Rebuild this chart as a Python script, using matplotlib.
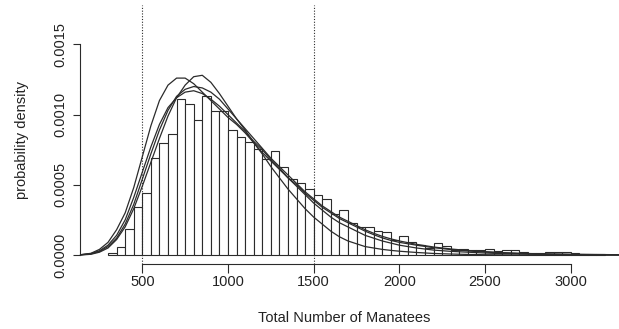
import matplotlib
matplotlib.use("Agg")
import matplotlib.pyplot as plt
from matplotlib.ticker import FuncFormatter
import numpy as np

plt.rcParams['font.family'] = ['Liberation Sans', 'DejaVu Sans']

# ---- data ----
bin_edges = list(range(300, 3201, 50))
hist_density = [
    0.000012, 0.000059, 0.000183, 0.000340, 0.000443, 0.000688, 0.000800, 0.000865,
    0.001110, 0.001074, 0.000965, 0.001133, 0.001026, 0.001024, 0.000889, 0.000837,
    0.000806, 0.000754, 0.000683, 0.000740, 0.000624, 0.000540, 0.000514, 0.000469,
    0.000427, 0.000398, 0.000289, 0.000320, 0.000225, 0.000201, 0.000201, 0.000171,
    0.000166, 0.000107, 0.000137, 0.000090, 0.000071, 0.000047, 0.000083, 0.000066,
    0.000036, 0.000045, 0.000036, 0.000036, 0.000040, 0.000030, 0.000036, 0.000036,
    0.000019, 0.000017, 0.000017, 0.000020, 0.000024, 0.000019, 0.000017, 0.000010,
    0.000010, 0.000005,
]

curve_x = [140, 200, 250, 300, 350, 400, 450, 500, 550, 600, 650, 700, 750, 800, 850,
           900, 950, 1000, 1050, 1100, 1150, 1200, 1250, 1300, 1350, 1400, 1450, 1500,
           1550, 1600, 1650, 1700, 1750, 1800, 1850, 1900, 1950, 2000, 2100, 2200, 2300,
           2400, 2500, 2600, 2700, 2800, 2900, 3000, 3100, 3200, 3290]

curve_a = [0.000002, 0.000012, 0.00004, 0.00009, 0.00018, 0.00030, 0.00048, 0.00070,
           0.00092, 0.00110, 0.00121, 0.00126, 0.00126, 0.00122, 0.00116, 0.00110,
           0.00104, 0.00098, 0.00093, 0.00087, 0.00080, 0.00073, 0.00067, 0.00061,
           0.00055, 0.00050, 0.00044, 0.00039, 0.00034, 0.00030, 0.00026, 0.00023,
           0.00020, 0.00017, 0.000145, 0.000122, 0.000104, 0.00009, 0.00007, 0.000052,
           0.000039, 0.000029, 0.000021, 0.000015, 0.000011, 0.000008, 0.000006,
           0.000004, 0.000003, 0.000002, 0.000001]
curve_b = [0.0, 0.000005, 0.00002, 0.00005, 0.00011, 0.00020, 0.00033, 0.00049,
           0.00066, 0.00083, 0.00099, 0.00112, 0.00121, 0.00127, 0.00128, 0.00123,
           0.00115, 0.00106, 0.00097, 0.00089, 0.00080, 0.00072, 0.00063, 0.00055,
           0.00047, 0.00040, 0.00033, 0.00027, 0.00022, 0.00017, 0.00013, 0.00010,
           0.00008, 0.00006, 0.00005, 0.00004, 0.000033, 0.000027, 0.000018, 0.000011,
           0.000007, 0.000004, 0.000002, 0.000001, 0.0, 0.0, 0.0, 0.0, 0.0, 0.0, 0.0]
curve_c = [0.000001, 0.000008, 0.000025, 0.00006, 0.00012, 0.00022, 0.00036, 0.00054,
           0.00072, 0.00089, 0.00103, 0.00113, 0.00118, 0.00120, 0.00119, 0.00116,
           0.00111, 0.00104, 0.00097, 0.00090, 0.00083, 0.00076, 0.00069, 0.00063,
           0.00057, 0.00051, 0.00045, 0.00040, 0.00035, 0.00031, 0.00027, 0.00024,
           0.00021, 0.00018, 0.000155, 0.000133, 0.000115, 0.00010, 0.000076, 0.000057,
           0.000043, 0.000032, 0.000024, 0.000017, 0.000012, 0.000009, 0.000007,
           0.000005, 0.000004, 0.000003, 0.000002]
curve_d = [0.000002, 0.00001, 0.00003, 0.00007, 0.00014, 0.00025, 0.00041, 0.00059,
           0.00077, 0.00093, 0.00105, 0.00112, 0.00116, 0.00117, 0.00115, 0.00111,
           0.00106, 0.00100, 0.00094, 0.00088, 0.00081, 0.00075, 0.00068, 0.00062,
           0.00055, 0.00049, 0.00043, 0.00037, 0.00032, 0.00027, 0.00023, 0.00020,
           0.00017, 0.00014, 0.00012, 0.00010, 0.000085, 0.00007, 0.00005, 0.000035,
           0.000026, 0.00002, 0.000014, 0.00001, 0.000007, 0.000005, 0.000003,
           0.000002, 0.000001, 0.0, 0.0]

ref_lines = [500, 1500]
x_ticks = [500, 1000, 1500, 2000, 2500, 3000]
y_ticks = [0.0, 0.0005, 0.0010, 0.0015]

# ---- figure ----
W, H = 619, 329
fig = plt.figure(figsize=(W / 100, H / 100), dpi=100)
left_px, right_px, top_px, bottom_px = 80, 619, 5, 264
ax = fig.add_axes([left_px / W, (H - bottom_px) / H,
                   (right_px - left_px) / W, (bottom_px - top_px) / H])

# pixel mapping
px_per_unit = 0.17136
x0_px = 56.62
y0_px = 255.0
px_per_dens = 140400.0
ax.set_xlim((left_px - x0_px) / px_per_unit, (right_px - x0_px) / px_per_unit)
ax.set_ylim((y0_px - bottom_px) / px_per_dens, (y0_px - top_px) / px_per_dens)

ink = '#2b2b2b'
widths = np.diff(bin_edges)
ax.bar(bin_edges[:-1], hist_density, width=widths, align='edge',
       facecolor='white', edgecolor=ink, linewidth=0.8, zorder=2)

for cy in (curve_a, curve_b, curve_c, curve_d):
    ax.plot(curve_x, cy, color=ink, linewidth=0.9, zorder=3, clip_on=False,
            solid_joinstyle='round')

for v in ref_lines:
    ax.axvline(v, color=ink, linewidth=0.8, linestyle=(0, (1, 1.5)), zorder=4)

for s in ('top', 'right'):
    ax.spines[s].set_visible(False)
ax.spines['left'].set_bounds(0, 0.0015)
ax.spines['bottom'].set_bounds(500, 3000)
ax.spines['left'].set_color(ink)
ax.spines['bottom'].set_color(ink)
ax.spines['left'].set_linewidth(0.8)
ax.spines['bottom'].set_linewidth(0.8)

ax.set_xticks(x_ticks)
ax.set_yticks(y_ticks)
ax.yaxis.set_major_formatter(FuncFormatter(lambda v, p: f"{v:.4f}"))
ax.tick_params(axis='x', length=6.5, width=0.8, color=ink, labelsize=10.5, pad=1.5,
               labelcolor='#222222')
ax.tick_params(axis='y', length=5.3, width=0.8, color=ink, labelsize=10.5, pad=4,
               labelcolor='#222222')
for lab in ax.get_yticklabels():
    lab.set_rotation(90)
    lab.set_va('center')

fig.text(344 / W, 1 - 318 / H, 'Total Number of Manatees', ha='center', va='center',
         fontsize=10.5, color='#222222')
fig.text(22 / W, 1 - 140 / H, 'probability density', ha='center', va='center',
         rotation=90, fontsize=10.5, color='#222222')

fig.savefig('out.png', dpi=100)
